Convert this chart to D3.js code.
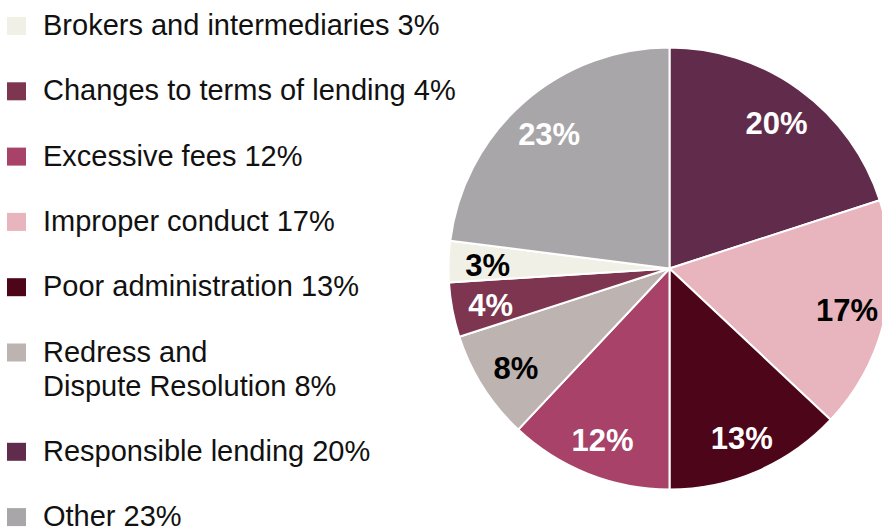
<!DOCTYPE html>
<html>
<head>
<meta charset="utf-8">
<script src="https://cdn.jsdelivr.net/npm/d3@7"></script>
<style>
  html, body { margin: 0; padding: 0; background: #fff; overflow: hidden; }
  svg { display: block; }
</style>
</head>
<body>
<div id="chart"></div>
<script>
// slices, clockwise from 12 o'clock
const categories = ["Responsible lending", "Improper conduct", "Poor administration", "Excessive fees",
                    "Redress and Dispute Resolution", "Changes to terms of lending", "Brokers and intermediaries", "Other"]
const values = [20, 17, 13, 12, 8, 4, 3, 23]
const colors = ["#612c4b", "#e8b4bd", "#4d0519", "#a84268", "#bdb3b1", "#7d3550", "#f0f0e6", "#a8a6a9"]
const labelColors = ["#fff", "#000", "#fff", "#fff", "#000", "#fff", "#000", "#fff"]

// legend order (top to bottom) and its text lines
const legendOrder = ["Brokers and intermediaries", "Changes to terms of lending", "Excessive fees", "Improper conduct",
                     "Poor administration", "Redress and Dispute Resolution", "Responsible lending", "Other"]
const legendLines = {
  "Redress and Dispute Resolution": ["Redress and", "Dispute Resolution 8%"]
}

const width = 882
const height = 528
const cx = 669.5, cy = 268.5
const radius = 221

const svg = d3.select("#chart").append("svg")
    .attr("width", width)
    .attr("height", height)
    .style("font-family", "Arial, 'Liberation Sans', sans-serif")

const color = d3.scaleOrdinal().domain(categories).range(colors)
const labelColor = d3.scaleOrdinal().domain(categories).range(labelColors)

const data = categories.map((c, i) => ({name: c, value: values[i]}))

const pie = d3.pie().value(d => d.value).sort(null)
const arc = d3.arc().innerRadius(0).outerRadius(radius)
const labelArc = d3.arc().innerRadius(182).outerRadius(182)

const g = svg.append("g").attr("transform", `translate(${cx},${cy})`)
const arcs = pie(data)

g.selectAll("path")
  .data(arcs)
  .join("path")
    .attr("d", arc)
    .attr("fill", d => color(d.data.name))
    .attr("stroke", "#fff")
    .attr("stroke-width", 2)

g.selectAll("text")
  .data(arcs)
  .join("text")
    .attr("transform", d => `translate(${labelArc.centroid(d)})`)
    .attr("text-anchor", "middle")
    .attr("dy", "0.42em")
    .attr("font-size", 31)
    .attr("font-weight", "bold")
    .attr("fill", d => labelColor(d.data.name))
    .text(d => d.data.value + "%")

// legend
const legend = svg.append("g").attr("font-size", 29).attr("fill", "#111")
const step = 65.3, extraLine = 34
let baseline = 35
legendOrder.forEach(name => {
  const v = values[categories.indexOf(name)]
  const lines = legendLines[name] || [name + " " + v + "%"]
  legend.append("rect")
      .attr("x", 7)
      .attr("y", baseline - 18)
      .attr("width", 19)
      .attr("height", 18)
      .attr("fill", color(name))
  lines.forEach((t, j) => {
    legend.append("text")
        .attr("x", 43)
        .attr("y", baseline + j * extraLine)
        .text(t)
  })
  baseline += step + (lines.length - 1) * extraLine
})
</script>
</body>
</html>
